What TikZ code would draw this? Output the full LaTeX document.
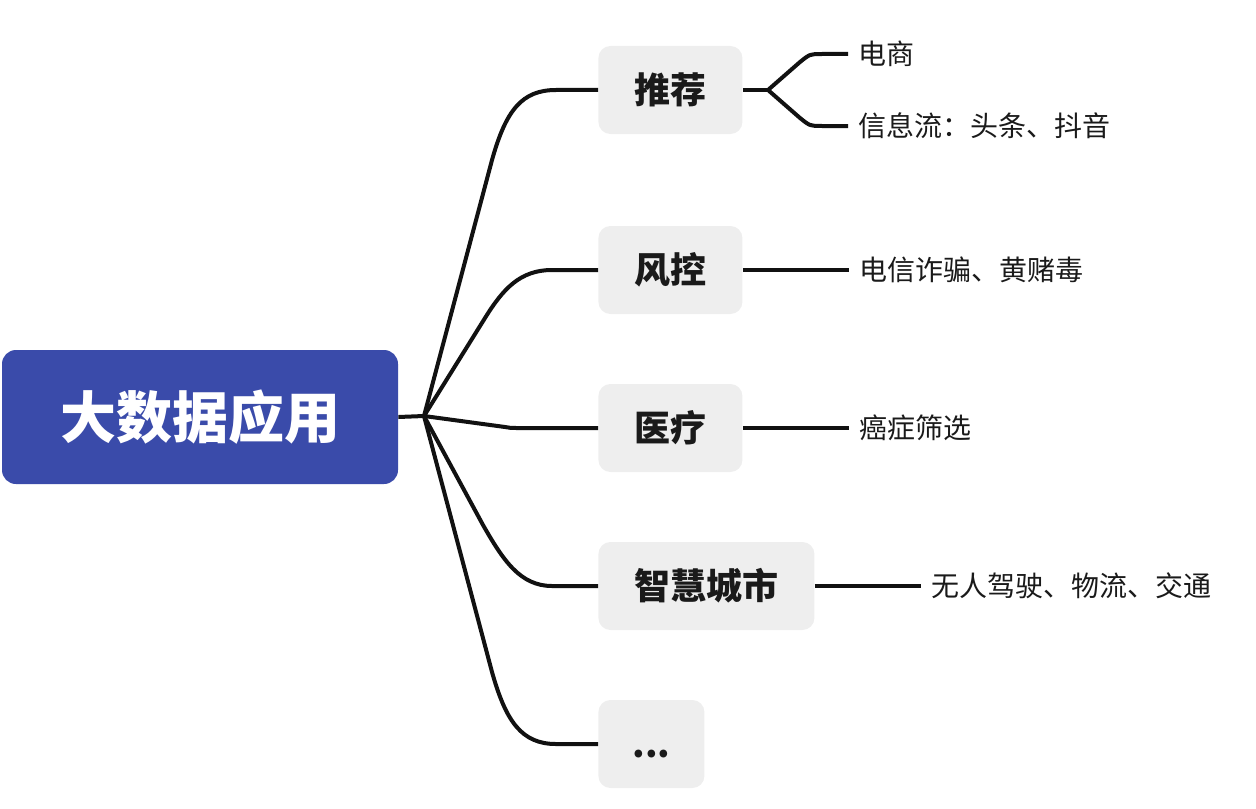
\documentclass[tikz,border=0pt]{standalone}
\usepackage{fontspec}
\setmainfont{Noto Sans CJK SC}
\usetikzlibrary{positioning}

\definecolor{rootblue}{HTML}{3A4BAA}
\definecolor{topicgray}{HTML}{EEEEEE}
\definecolor{textdark}{HTML}{1A1A1A}
\definecolor{linedark}{HTML}{111111}

\begin{document}
\begin{tikzpicture}[x=0.5pt,y=-0.5pt,
                    root/.style={rectangle,rounded corners=7pt,fill=rootblue,text=white,
                                 font=\bfseries\fontsize{28}{28}\selectfont,
                                 minimum width=198pt,minimum height=67pt},
                    topic/.style={rectangle,rounded corners=6pt,fill=topicgray,text=textdark,anchor=west,
                                  font=\bfseries\fontsize{18}{18}\selectfont,
                                  minimum width=72pt,minimum height=44pt},
                    leaf/.style={anchor=west,inner xsep=5pt,text=textdark,
                                 font=\fontsize{14}{14}\selectfont},
                    branch/.style={draw=linedark,line width=2pt}]

\useasboundingbox (0,0) rectangle (1256,808);

\node[root] (big) at (200,417) {大数据应用};
\coordinate (hub) at (424,416);

\node[topic] (rec) at (598,90) {推荐};
\node[topic] (risk) at (598,270) {风控};
\node[topic] (med) at (598,428) {医疗};
\node[topic,minimum width=108pt] (city) at (598,586) {智慧城市};
\node[topic,minimum width=53pt] (more) at (598,744) {\vphantom{推}...};

% leaves
\coordinate (fork) at (768,90);
\node[leaf] (shop) at (848,54) {电商};
\node[leaf] (feed) at (848,126) {信息流：头条、抖音};
\node[leaf,right=53pt of risk] (fraud) {电信诈骗、黄赌毒};
\node[leaf,right=53pt of med] (cancer) {癌症筛选};
\node[leaf,right=53pt of city] (auto) {无人驾驶、物流、交通};

% root to topics
\draw[branch] (big.east) -- (hub);
\draw[branch] (hub) -- (492,160) .. controls (506,110) and (522,90) .. (556,90) -- (rec.west);
\draw[branch] (hub) -- (485,318) .. controls (503,289) and (520,270) .. (552,270) -- (risk.west);
\draw[branch] (hub) -- (505,427) .. controls (510,428) .. (520,428) -- (med.west);
\draw[branch] (hub) -- (483,525) .. controls (503,560) and (520,586) .. (552,586) -- (city.west);
\draw[branch] (hub) -- (492,672) .. controls (506,722) and (522,744) .. (556,744) -- (more.west);

% topics to leaves
\draw[branch] (rec.east) -- (fork);
\draw[branch] (fork) -- (800,62) .. controls (810,54) .. (822,54) -- (shop.west);
\draw[branch] (fork) -- (800,118) .. controls (810,126) .. (822,126) -- (feed.west);
\draw[branch] (risk.east) -- (fraud.west);
\draw[branch] (med.east) -- (cancer.west);
\draw[branch] (city.east) -- (auto.west);

\end{tikzpicture}
\end{document}
